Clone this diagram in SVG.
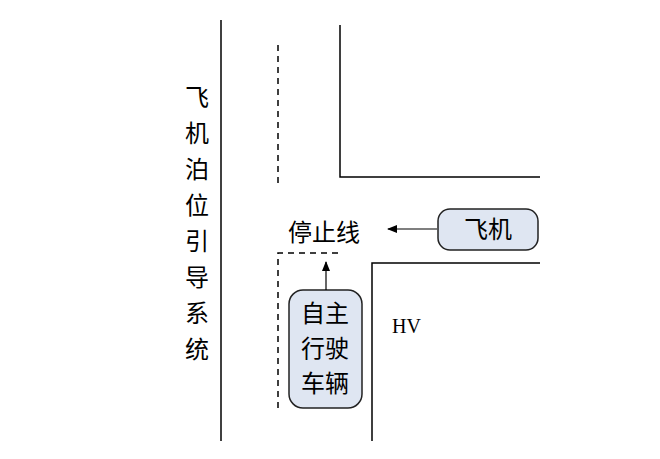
<svg xmlns="http://www.w3.org/2000/svg" width="660" height="459" viewBox="0 0 660 459">
<defs>
<style>
.l{stroke:#000;stroke-width:1.5;fill:none}
.d{stroke:#000;stroke-width:1.5;fill:none;stroke-dasharray:6,5}
.t{font-family:"Liberation Serif","Noto Sans CJK SC",serif;font-size:24px;fill:#000}
.b{fill:#dfe6f2;stroke:#222;stroke-width:1.5}
</style>
<marker id="a" markerWidth="10" markerHeight="8" refX="9" refY="4" orient="auto" markerUnits="userSpaceOnUse"><path d="M0,0 L10,4 L0,8 z" fill="#000"/></marker>
</defs>
<rect width="660" height="459" fill="#fff"/>
<g id="roads">
<line class="l" x1="221" y1="20" x2="221" y2="441"/>
<line class="d" x1="278" y1="45" x2="278" y2="185"/>
<polyline class="l" points="340,25 340,177 540,177"/>
<polyline class="l" points="372,441 372,263 540,263"/>
<polyline class="d" points="338,253 278,253 278,410"/>
</g>
<g id="system"><text class="t" x="197" y="0" text-anchor="middle">
<tspan x="197" y="106">飞</tspan><tspan x="197" y="142">机</tspan><tspan x="197" y="178">泊</tspan><tspan x="197" y="214">位</tspan><tspan x="197" y="250">引</tspan><tspan x="197" y="286">导</tspan><tspan x="197" y="322">系</tspan><tspan x="197" y="358">统</tspan></text></g>
<g id="stopline"><text class="t" x="288" y="241">停止线</text></g>
<g id="hv"><text class="t" x="392" y="333" style="font-size:20px">HV</text></g>
<g id="plane"><rect class="b" x="438" y="209" width="100" height="41" rx="12"/><text class="t" x="488" y="238" text-anchor="middle">飞机</text></g>
<g id="vehicle"><rect class="b" x="289" y="290" width="73" height="118" rx="14"/>
<text class="t" x="325" y="322" text-anchor="middle">自主</text>
<text class="t" x="325" y="357" text-anchor="middle">行驶</text>
<text class="t" x="325" y="392" text-anchor="middle">车辆</text></g>
<g id="connectors">
<line class="l" x1="437" y1="229" x2="388" y2="229" marker-end="url(#a)" style="stroke-width:1.2"/>
<line class="l" x1="326" y1="290" x2="326" y2="262" marker-end="url(#a)" style="stroke-width:1.2"/>
</g>
</svg>
